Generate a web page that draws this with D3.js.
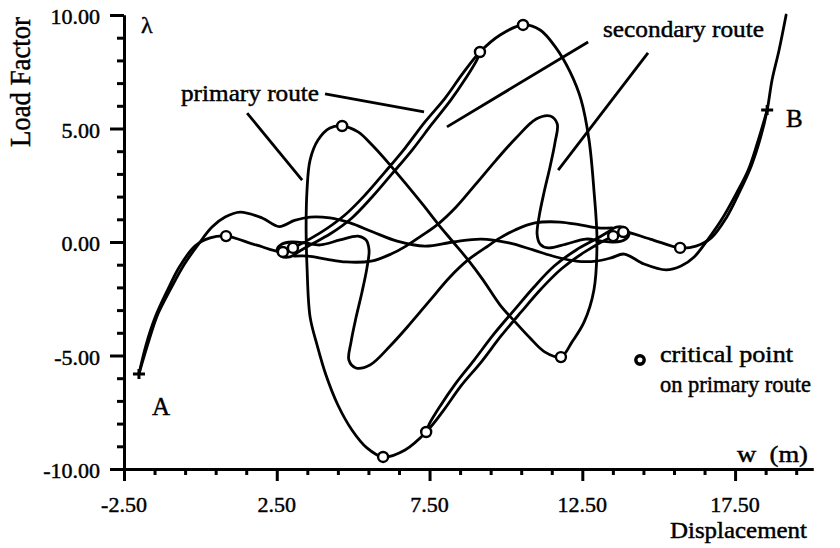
<!DOCTYPE html>
<html><head><meta charset="utf-8">
<script src="https://cdn.jsdelivr.net/npm/d3@7"></script>
<style>
html,body{margin:0;padding:0;background:#fff;}
text{font-family:"Liberation Serif","Times New Roman",serif;fill:#000;stroke:#000;stroke-width:0.45px;}
</style></head>
<body><svg id="chart" width="840" height="548"></svg>
<script>
// ---------- data (load factor λ vs displacement w) ----------
const xMajorTicks = [-2.5, 2.5, 7.5, 12.5, 17.5];
const xMinorTicks = [-1.5,-0.5,0.5,1.5,3.5,4.5,5.5,6.5,8.5,9.5,10.5,11.5,13.5,14.5,15.5,16.5,18.5,19.5];
const yMajorTicks = [-10, -5, 0, 5, 10];
const yMinorTicks = [-9,-8,-7,-6,-4,-3,-2,-1,1,2,3,4,6,7,8,9];

const primaryRoute = [
  [-2.01,-5.81],[-1.78,-4.54],[-1.49,-3.35],[-1.09,-2.16],[-0.67,-1.06],[-0.18,-0.18],[0.32,0.18],
  [0.84,0.26],[1.82,-0.13],[2.70,-0.44],[3.03,-0.26],[3.92,0.40],[4.73,1.19],[5.39,2.07],[6.04,3.08],
  [6.70,4.14],[7.35,5.29],[8.01,6.34],[8.60,7.45],[9.15,8.37],[9.81,9.12],[10.56,9.56],[11.12,9.34],
  [11.64,8.55],[12.10,7.49],[12.46,6.26],[12.72,4.49],[12.88,2.29],[12.98,0.09],[12.88,-2.11],
  [12.56,-3.52],[12.16,-4.41],[11.80,-5.07],[11.28,-4.85],[10.79,-4.23],[10.30,-3.52],[9.81,-2.78],
  [9.25,-1.67],[8.76,-0.79],[8.27,0.00],[7.78,0.79],[7.29,1.63],[6.70,2.60],[6.21,3.39],[5.62,4.27],
  [5.16,4.85],[4.64,5.11],[4.24,5.02],[3.85,4.49],[3.59,3.61],[3.49,2.29],[3.46,0.53],[3.49,-1.10],
  [3.59,-3.30],[3.82,-4.54],[4.11,-5.86],[4.50,-7.18],[4.96,-8.28],[5.45,-9.07],[5.98,-9.47],
  [6.70,-9.16],[7.39,-8.37],[7.94,-7.45],[8.53,-6.34],[9.19,-5.29],[9.84,-4.14],[10.50,-3.08],
  [11.15,-2.07],[11.81,-1.19],[12.62,-0.40],[13.51,0.26],[13.84,0.44],[14.72,0.13],[15.70,-0.26],
  [16.22,-0.18],[16.72,0.18],[17.21,1.06],[17.63,2.16],[18.03,3.35],[18.32,4.54],[18.55,5.81],
  [18.71,7.14],[18.94,8.46],[19.17,10.00]
];

const secondaryRoute = [
  [-2.01,-5.81],[-1.68,-4.32],[-1.39,-3.17],[-0.99,-2.11],[-0.54,-1.01],[-0.08,-0.13],[0.38,0.66],
  [0.81,1.10],[1.30,1.32],[2.02,1.06],[2.58,0.68],[3.08,0.95],[3.59,1.10],[4.24,1.06],[4.90,0.84],
  [5.65,0.44],[6.44,0.04],[7.35,-0.18],[8.27,0.00],[9.19,0.13],[10.10,-0.04],[10.89,-0.35],
  [11.64,-0.66],[12.30,-0.84],[12.95,-0.84],[13.44,-0.70],[13.87,-0.53],[14.52,-0.97],[15.24,-1.23],
  [15.73,-1.06],[16.16,-0.66],[16.62,0.13],[17.07,1.01],[17.53,2.11],[17.93,3.17],[18.22,4.32],[18.55,5.81]
];

const secondaryLoopLow = [
  [9.15,8.37],[9.05,8.02],[8.69,7.22],[8.20,6.26],[7.58,5.20],[6.93,4.05],[6.27,3.00],[5.62,1.98],
  [4.96,1.06],[4.24,0.35],[3.59,-0.13],[3.20,-0.44],[2.93,-0.66],[2.64,-0.62],[2.51,-0.35],[2.67,-0.09],
  [3.00,0.00],[3.42,-0.04],[3.92,-0.13],[4.57,0.09],[5.16,0.26],[5.42,0.09],[5.52,-0.35],[5.45,-1.15],
  [5.29,-2.20],[5.09,-3.35],[4.93,-4.41],[4.86,-5.20],[5.09,-5.55],[5.55,-5.42],[6.21,-4.58],[6.86,-3.61],
  [7.52,-2.56],[8.17,-1.54],[8.76,-0.79],[9.32,-0.26],[9.81,0.18],[10.30,0.53],[10.95,0.84],[11.77,0.88],
  [12.43,0.75],[13.02,0.62],[13.47,0.62]
];

const secondaryLoopHigh = [
  [7.39,-8.37],[7.49,-8.02],[7.85,-7.22],[8.34,-6.26],[8.96,-5.20],[9.61,-4.05],[10.27,-3.00],[10.92,-1.98],
  [11.58,-1.06],[12.30,-0.35],[12.95,0.13],[13.34,0.44],[13.61,0.66],[13.90,0.62],[14.03,0.35],[13.87,0.09],
  [13.54,0.00],[13.12,0.04],[12.62,0.13],[11.97,-0.09],[11.38,-0.26],[11.12,-0.09],[11.02,0.35],[11.09,1.15],
  [11.25,2.20],[11.45,3.35],[11.61,4.41],[11.68,5.20],[11.45,5.55],[10.99,5.42],[10.33,4.58],[9.68,3.61],
  [9.02,2.56],[8.37,1.54],[7.78,0.79],[7.22,0.26],[6.73,-0.18],[6.24,-0.53],[5.59,-0.84],[4.77,-0.88],
  [4.11,-0.75],[3.52,-0.62],[3.07,-0.62]
];

const criticalPoints = [
  [0.84,0.26],[2.70,-0.44],[3.03,-0.26],[4.64,5.11],[9.15,8.37],[10.56,9.56],
  [5.98,-9.47],[7.39,-8.37],[11.80,-5.07],[13.51,0.26],[13.84,0.44],[15.70,-0.26]
];

const endPoints = [
  {label:"A", x:-2.01, y:-5.81},
  {label:"B", x:18.55, y:5.81}
];

const leaderLines = [
  [[1.53,5.68],[3.33,2.73]],
  [[4.08,6.52],[7.32,5.73]],
  [[8.07,5.07],[12.69,8.81]],
  [[14.65,8.33],[11.71,3.17]]
];

// ---------- drawing ----------
const svg = d3.select("#chart");
svg.append("rect").attr("width",840).attr("height",548).attr("fill","#fff");

const x = d3.scaleLinear().domain([-2.5, 20.05]).range([124, 813]);
const y = d3.scaleLinear().domain([-10, 10]).range([469, 15]);
const fmt = v => v.toFixed(2);

function styleAxis(g){
  g.select(".domain").attr("stroke","#000").attr("stroke-width",3);
  g.selectAll(".tick line").attr("stroke","#000").attr("stroke-width",3);
  g.selectAll(".tick text").remove();
}

// y axis
svg.append("g").attr("transform","translate(124,0)")
  .call(d3.axisLeft(y).tickValues(yMajorTicks).tickSize(14).tickSizeOuter(0).tickFormat(""))
  .call(styleAxis);
svg.append("g").attr("transform","translate(124,0)")
  .call(d3.axisLeft(y).tickValues(yMinorTicks).tickSize(7).tickSizeOuter(0).tickFormat(""))
  .call(styleAxis);
// x axis
svg.append("g").attr("transform","translate(0,469)")
  .call(d3.axisBottom(x).tickValues(xMajorTicks).tickSize(12).tickSizeOuter(0).tickFormat(""))
  .call(styleAxis);
svg.append("g").attr("transform","translate(0,469)")
  .call(d3.axisBottom(x).tickValues(xMinorTicks).tickSize(6).tickSizeOuter(0).tickFormat(""))
  .call(styleAxis);

// tick labels
svg.append("g").selectAll("text").data(yMajorTicks).join("text")
  .attr("x",100).attr("y",d=>y(d)).attr("dy","0.42em")
  .attr("text-anchor","end").attr("font-size",22).text(fmt);
svg.append("g").selectAll("text").data(xMajorTicks).join("text")
  .attr("x",d=>x(d)).attr("y",512)
  .attr("text-anchor","middle").attr("font-size",22).text(fmt);

// curves
const line = d3.line().x(d=>x(d[0])).y(d=>y(d[1])).curve(d3.curveCatmullRom.alpha(0.5));
const curves = [secondaryRoute, secondaryLoopLow, secondaryLoopHigh, primaryRoute];
svg.append("g").selectAll("path").data(curves).join("path")
  .attr("d", line).attr("fill","none").attr("stroke","#000")
  .attr("stroke-width",2.8).attr("stroke-linejoin","round").attr("stroke-linecap","round");

// leader lines
svg.append("g").selectAll("line").data(leaderLines).join("line")
  .attr("x1",d=>x(d[0][0])).attr("y1",d=>y(d[0][1]))
  .attr("x2",d=>x(d[1][0])).attr("y2",d=>y(d[1][1]))
  .attr("stroke","#000").attr("stroke-width",2.8);

// critical points
svg.append("g").selectAll("circle").data(criticalPoints).join("circle")
  .attr("cx",d=>x(d[0])).attr("cy",d=>y(d[1])).attr("r",5)
  .attr("fill","#fff").attr("stroke","#000").attr("stroke-width",2.4);

// end markers (+)
svg.append("g").selectAll("path").data(endPoints).join("path")
  .attr("d",d=>{const cx=x(d.x), cy=y(d.y);
    return `M${cx-6},${cy}H${cx+6}M${cx},${cy-5}V${cy+5}`;})
  .attr("stroke","#000").attr("stroke-width",3);

// text labels
function label(t, px, py, size, len){
  const el = svg.append("text").attr("x",px).attr("y",py).attr("font-size",size)
    .style("white-space","pre").text(t);
  if(len){ el.attr("textLength",len).attr("lengthAdjust","spacingAndGlyphs"); }
  return el;
}
label("A",152,415,25);
label("B",786,127,25);
label("λ",141,33,24);
label("primary route",181,101,23,138);
label("secondary route",603,37,23,161);
label("critical point",660,362,24,133);
label("on primary route",660,392,23,151);
label("w  (m)",737,462,23,71);
label("Displacement",670,538,23,137);

svg.append("text").attr("transform","translate(30,82) rotate(-90)")
  .attr("text-anchor","middle").attr("font-size",30)
  .attr("textLength",130).attr("lengthAdjust","spacingAndGlyphs").text("Load Factor");

// legend marker
svg.append("circle").attr("cx",640).attr("cy",360).attr("r",4.2)
  .attr("fill","#fff").attr("stroke","#000").attr("stroke-width",3.4);
</script></body></html>
